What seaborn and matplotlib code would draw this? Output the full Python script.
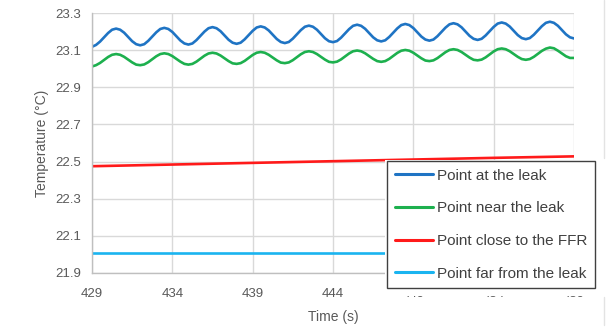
import numpy as np
import pandas as pd
import seaborn as sns
import matplotlib.pyplot as plt
from matplotlib.lines import Line2D
from matplotlib.patches import Rectangle

# time axis (s), 0.25 s steps
time = np.arange(429, 459.001, 0.25)
time_coarse = [429, 434, 439, 444, 449, 454, 459]

# Point at the leak
at_leak = [
    23.118, 23.128, 23.146, 23.169, 23.192, 23.210, 23.216, 23.210, 23.194, 23.171, 23.148, 23.132,
    23.126, 23.132, 23.150, 23.173, 23.196, 23.214, 23.220, 23.214, 23.198, 23.175, 23.152, 23.136,
    23.130, 23.136, 23.154, 23.177, 23.200, 23.218, 23.224, 23.218, 23.202, 23.179, 23.156, 23.140,
    23.134, 23.140, 23.158, 23.181, 23.204, 23.222, 23.228, 23.222, 23.206, 23.183, 23.160, 23.144,
    23.138, 23.144, 23.162, 23.185, 23.208, 23.226, 23.232, 23.226, 23.210, 23.187, 23.164, 23.148,
    23.143, 23.149, 23.167, 23.190, 23.213, 23.231, 23.237, 23.231, 23.215, 23.192, 23.169, 23.153,
    23.147, 23.153, 23.171, 23.194, 23.217, 23.235, 23.241, 23.235, 23.219, 23.196, 23.173, 23.157,
    23.151, 23.157, 23.175, 23.198, 23.221, 23.239, 23.245, 23.239, 23.223, 23.200, 23.177, 23.161,
    23.155, 23.161, 23.179, 23.202, 23.225, 23.243, 23.249, 23.243, 23.227, 23.204, 23.181, 23.165,
    23.159, 23.165, 23.183, 23.206, 23.229, 23.247, 23.253, 23.247, 23.231, 23.208, 23.185, 23.169,
    23.163,
]

# Point near the leak
near_leak = [
    23.012, 23.019, 23.031, 23.047, 23.063, 23.075, 23.079, 23.075, 23.064, 23.049, 23.034, 23.022,
    23.019, 23.023, 23.035, 23.051, 23.067, 23.079, 23.083, 23.079, 23.068, 23.053, 23.038, 23.026,
    23.022, 23.026, 23.038, 23.054, 23.070, 23.082, 23.086, 23.082, 23.071, 23.056, 23.041, 23.029,
    23.026, 23.030, 23.042, 23.058, 23.074, 23.086, 23.090, 23.086, 23.075, 23.060, 23.045, 23.033,
    23.030, 23.034, 23.046, 23.062, 23.078, 23.090, 23.094, 23.090, 23.079, 23.064, 23.049, 23.037,
    23.034, 23.038, 23.050, 23.066, 23.082, 23.094, 23.098, 23.094, 23.083, 23.068, 23.053, 23.041,
    23.037, 23.041, 23.053, 23.069, 23.085, 23.097, 23.101, 23.097, 23.086, 23.071, 23.056, 23.044,
    23.041, 23.045, 23.057, 23.073, 23.089, 23.101, 23.105, 23.101, 23.090, 23.075, 23.060, 23.048,
    23.045, 23.049, 23.061, 23.077, 23.093, 23.105, 23.109, 23.105, 23.094, 23.079, 23.064, 23.052,
    23.048, 23.052, 23.064, 23.080, 23.096, 23.108, 23.114, 23.110, 23.097, 23.082, 23.067, 23.058,
    23.058,
]

# Point close to the FFR / far from the leak (5 s steps)
close_ffr = [22.475, 22.484, 22.493, 22.502, 22.511, 22.520, 22.528]
far_leak = [22.005, 22.005, 22.005, 22.005, 22.005, 22.005, 22.005]

labels = ["Point at the leak", "Point near the leak",
          "Point close to the FFR", "Point far from the leak"]
colors = ["#1F74C4", "#1DB04E", "#FF1A1A", "#1AB4F0"]
y_ticks = [21.9, 22.1, 22.3, 22.5, 22.7, 22.9, 23.1, 23.3]
x_ticks = [429, 434, 439, 444, 449, 454, 459]

df = pd.concat([
    pd.DataFrame({"t": time, "T": at_leak, "s": labels[0]}),
    pd.DataFrame({"t": time, "T": near_leak, "s": labels[1]}),
    pd.DataFrame({"t": time_coarse, "T": close_ffr, "s": labels[2]}),
    pd.DataFrame({"t": time_coarse, "T": far_leak, "s": labels[3]}),
], ignore_index=True)

sns.set_theme(style="whitegrid")
plt.rcParams["font.family"] = ["Liberation Sans", "DejaVu Sans"]

fig = plt.figure(figsize=(6.16, 3.27), dpi=100)
ax = fig.add_axes([92/616, 1-273/327, (574-92)/616, (273-13)/327])

sns.lineplot(data=df, x="t", y="T", hue="s", hue_order=labels,
             palette=colors, linewidth=1.9, ax=ax, legend=False)

ax.set_xlim(429, 459)
ax.set_ylim(21.9, 23.3)
ax.set_xticks(x_ticks)
ax.set_yticks(y_ticks)
ax.set_yticklabels([f"{v:.1f}" for v in y_ticks])
ax.grid(True, color="#D9D9D9", linewidth=1)
ax.tick_params(axis="both", length=0, labelsize=9.5, labelcolor="#595959")
ax.tick_params(axis="x", pad=11)
ax.tick_params(axis="y", pad=8)
for side in ["top", "right"]:
    ax.spines[side].set_visible(False)
for side in ["left", "bottom"]:
    ax.spines[side].set_color("#BFBFBF")
    ax.spines[side].set_linewidth(1)

ax.set_xlabel("Time (s)", fontsize=10, color="#595959", labelpad=7)
ax.set_ylabel("Temperature (°C)", fontsize=10, color="#595959", labelpad=4)

# white area of the legend covers the last tick labels, as in the original
fig.add_artist(Rectangle((385/616, 1-296/327), 216/616, 136/327, transform=fig.transFigure,
                         facecolor="white", edgecolor="none", zorder=4))

handles = [Line2D([], [], color=c, linewidth=2.2) for c in colors]
leg = fig.legend(handles, labels, loc="upper left",
                 bbox_to_anchor=(387/616, 1-161/327),
                 borderaxespad=0, fontsize=11, handlelength=2.5, handletextpad=0.25,
                 labelspacing=1.22, borderpad=0.5, fancybox=False, framealpha=1,
                 edgecolor="#404040", facecolor="white")
leg.set_zorder(5)
leg.get_frame().set_linewidth(1.0)
for txt in leg.get_texts():
    txt.set_color("#404040")

# light separator line at the right of the picture
fig.add_artist(Line2D([604/616, 604/616], [1, 1-158/327], transform=fig.transFigure,
                      color="#E3E3E3", linewidth=1))
fig.add_artist(Line2D([604/616, 604/616], [1-297/327, 1-325/327], transform=fig.transFigure,
                      color="#E3E3E3", linewidth=1))

fig.savefig("out.png", dpi=100)
